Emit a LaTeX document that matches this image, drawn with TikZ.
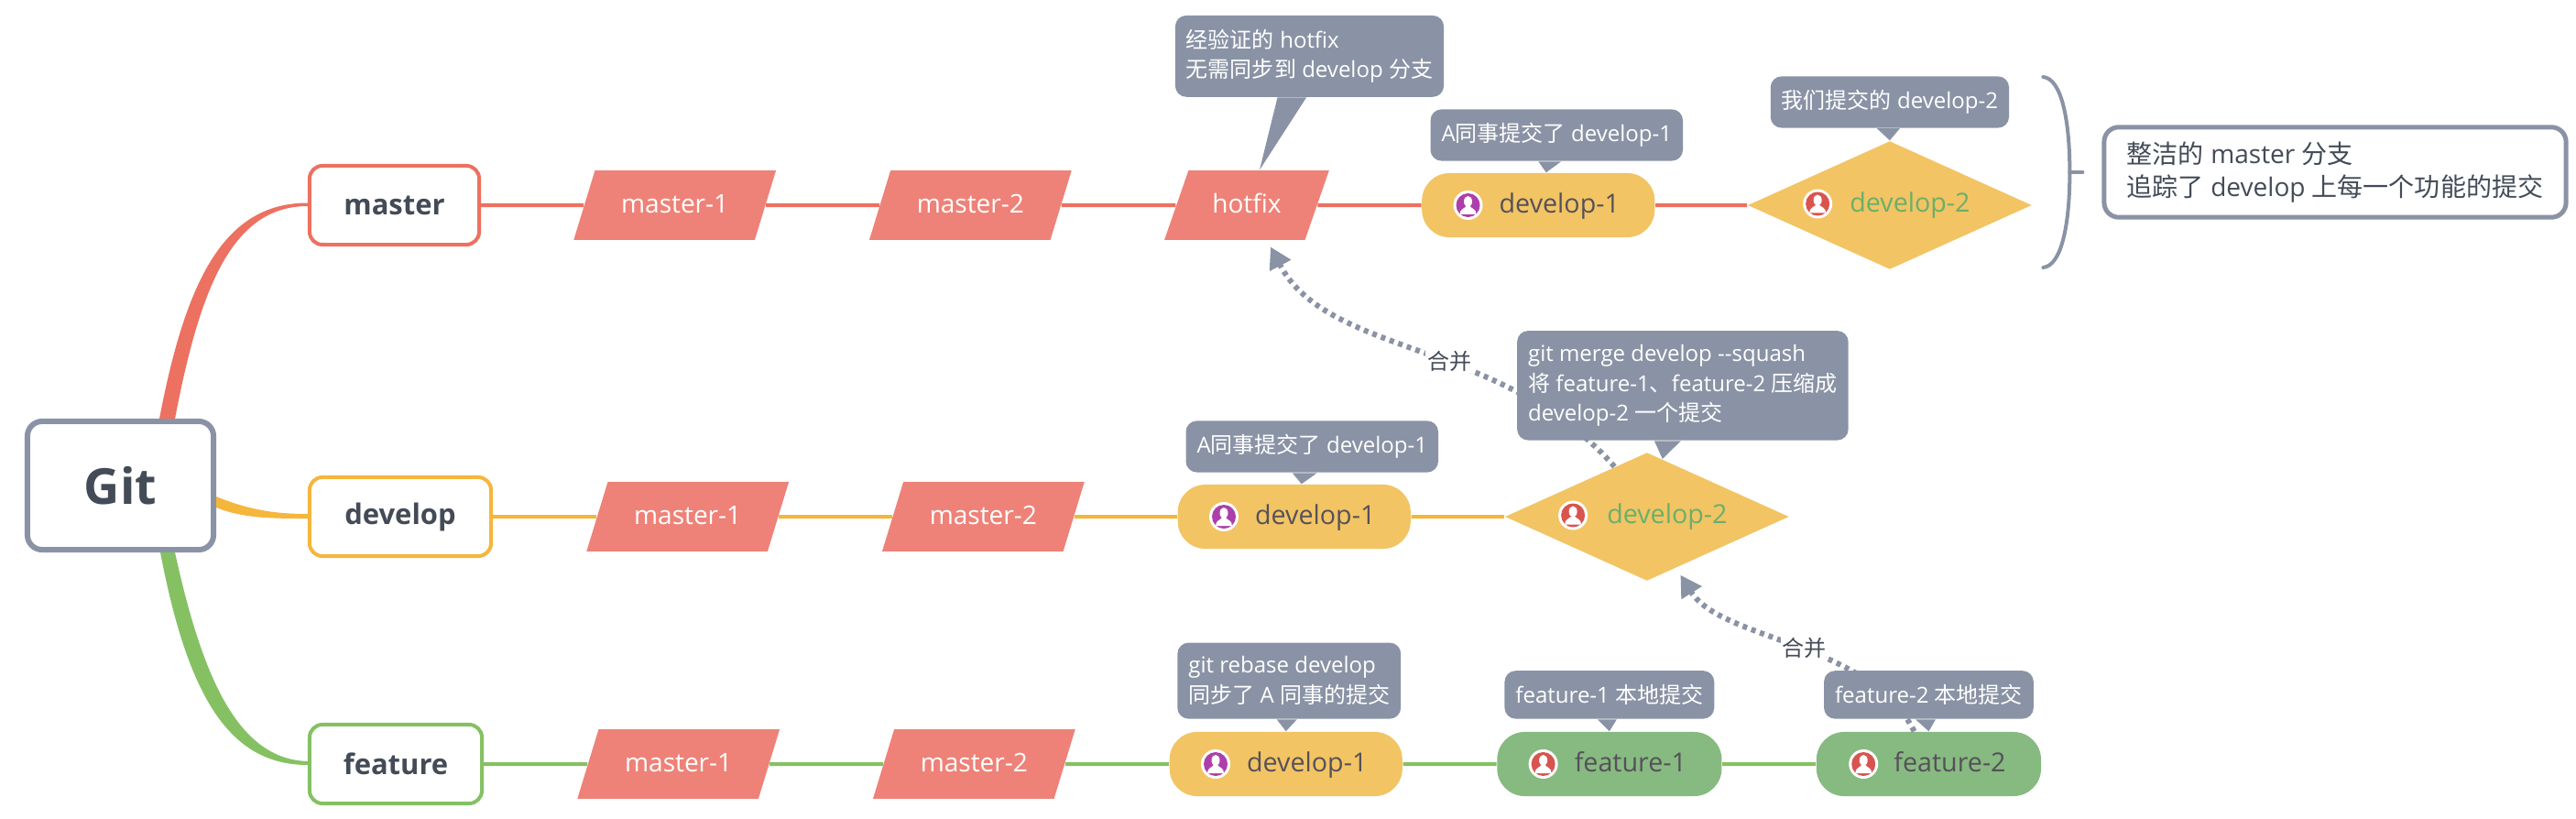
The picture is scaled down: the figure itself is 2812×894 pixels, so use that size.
\documentclass[tikz,border=0pt]{standalone}
\usepackage{fontspec}
\setmainfont{Open Sans}
\newfontfamily\cjk{Noto Sans CJK SC}
\newcommand{\zh}[1]{{\cjk #1}}
\usetikzlibrary{arrows.meta,positioning,shapes.geometric}

\definecolor{slategray}{HTML}{8A93A5}
\definecolor{inkgray}{HTML}{434B57}
\definecolor{pilltext}{HTML}{55505A}
\definecolor{masterline}{HTML}{EC7160}
\definecolor{developline}{HTML}{F5B63C}
\definecolor{featureline}{HTML}{85C163}
\definecolor{parafill}{HTML}{EE8278}
\definecolor{yellowfill}{HTML}{F2C464}
\definecolor{greenfill}{HTML}{87BA80}
\definecolor{devgreen}{HTML}{6AAF6A}
\definecolor{userpurple}{HTML}{AC3FAA}
\definecolor{userred}{HTML}{D9534F}

\tikzset{
  usericon/.pic={
    \fill[white] (0,0) circle (16);
    \fill[#1] (0,0) circle (13);
    \fill[white] (0,-4) ellipse (4.5 and 6);
    \fill[white] (-9,10) .. controls (-9,4) and (-4,4) .. (-2,1) -- (2,1) .. controls (4,4) and (9,4) .. (9,10) -- cycle;
  }
}

\begin{document}
\begin{tikzpicture}[
  x=.01cm,y=-.01cm,
  branch/.style={draw,fill=white,line width=.04cm,rounded corners=.14cm,minimum height=.86cm,text=inkgray,font=\bfseries\fontsize{8.8pt}{12pt}\selectfont},
  para/.style={trapezium,trapezium left angle=62.7,trapezium right angle=117.3,trapezium stretches=true,fill=parafill,minimum width=2.21cm,minimum height=.755cm,inner sep=0pt,text=white,text height=.23cm,text depth=.07cm,font=\fontsize{7.97pt}{10pt}\selectfont},
  commit/.style={rounded corners=.3cm,minimum width=2.54cm,minimum height=.7cm,inner sep=0pt,text=pilltext,text height=.23cm,text depth=.07cm,execute at begin node=\hspace*{.46cm},font=\fontsize{8.15pt}{10pt}\selectfont},
  merged/.style={diamond,fill=yellowfill,aspect=2.19,minimum width=3.1cm,minimum height=1.4cm,inner sep=0pt,text=devgreen,execute at begin node=\hspace*{.44cm},font=\fontsize{8.15pt}{10pt}\selectfont},
  note/.style={fill=slategray,rounded corners=.12cm,inner xsep=.12cm,inner ysep=.15cm,align=left,text=white,font=\fontsize{6.83pt}{9.3pt}\selectfont},
  tail/.style={fill=slategray},
  flow/.style={line width=.04cm},
  mergeline/.style={draw=slategray,line width=.06cm,dash pattern=on .05cm off .05cm,-{Triangle[length=.23cm,width=.25cm]}},
  mergelabel/.style={fill=white,inner sep=.02cm,text=inkgray,font=\fontsize{6.83pt}{9pt}\selectfont}
]
  \useasboundingbox (0,0) rectangle (2812,894);

  \node[draw=slategray,fill=white,line width=.06cm,rounded corners=.16cm,minimum width=2.03cm,minimum height=1.4cm,text=inkgray,font=\bfseries\fontsize{15.4pt}{19pt}\selectfont] (git) at (131.5,530) {Git};
  \node[branch,draw=masterline,minimum width=1.85cm] (master) at (430.5,224) {master};
  \node[branch,draw=developline,minimum width=1.98cm] (develop) at (437,564) {develop};
  \node[branch,draw=featureline,minimum width=1.88cm] (feature) at (432,834) {feature};

  % master row
  \node[para,right=1.12cm of master] (masterone) {master-1};
  \node[para,right=1.235cm of masterone] (mastertwo) {master-2};
  \node[para,minimum width=1.8cm,right=1.245cm of mastertwo] (hotfix) {hotfix};
  \node[commit,fill=yellowfill,right=1.13cm of hotfix] (devone) {develop-1};
  \node[merged,right=1cm of devone] (devtwo) {develop-2};

  % develop row
  \node[para,right=1.13cm of develop] (dmasterone) {master-1};
  \node[para,right=1.235cm of dmasterone] (dmastertwo) {master-2};
  \node[commit,fill=yellowfill,right=1.12cm of dmastertwo] (ddevone) {develop-1};
  \node[merged,right=1.015cm of ddevone] (ddevtwo) {develop-2};

  % feature row
  \node[para,right=1.13cm of feature] (fmasterone) {master-1};
  \node[para,right=1.235cm of fmasterone] (fmastertwo) {master-2};
  \node[commit,fill=yellowfill,right=1.13cm of fmastertwo] (fdevone) {develop-1};
  \node[commit,fill=greenfill,minimum width=2.45cm,right=1.02cm of fdevone] (featone) {feature-1};
  \node[commit,fill=greenfill,minimum width=2.45cm,right=1.02cm of featone] (feattwo) {feature-2};

  % tapered branches out of the root
  \fill[masterline] ([xshift=.425cm]git.north) .. controls +(29,-152) and (245,221.5) .. ([yshift=.025cm]master.west) -- ([yshift=-.01cm]master.west) .. controls (255,225) and (219,310) .. ([xshift=.595cm]git.north) -- cycle;
  \fill[developline] ([yshift=-.12cm]git.east) .. controls (275,558) and (305,561) .. ([yshift=.03cm]develop.west) -- ([yshift=-.02cm]develop.west) .. controls (300,566) and (265,566) .. ([yshift=-.24cm]git.east) -- cycle;
  \fill[featureline] ([xshift=.435cm]git.south) .. controls +(30,157) and (250,835) .. ([yshift=-.01cm]feature.west) -- ([yshift=.03cm]feature.west) .. controls (262,829) and (222,745) .. ([xshift=.595cm]git.south) -- cycle;

  \draw[flow,masterline] (master) -- (masterone) (masterone) -- (mastertwo) (mastertwo) -- (hotfix) (hotfix) -- (devone) (devone) -- (devtwo);
  \draw[flow,developline] (develop) -- (dmasterone) (dmasterone) -- (dmastertwo) (dmastertwo) -- (ddevone) (ddevone) -- (ddevtwo);
  \draw[flow,featureline] (feature) -- (fmasterone) (fmasterone) -- (fmastertwo) (fmastertwo) -- (fdevone) (fdevone) -- (featone) (featone) -- (feattwo);

  \pic at ([xshift=.51cm]devone.west) {usericon=userpurple};
  \pic at ([xshift=.77cm,yshift=.015cm]devtwo.west) {usericon=userred};
  \pic at ([xshift=.51cm]ddevone.west) {usericon=userpurple};
  \pic at ([xshift=.75cm,yshift=.015cm]ddevtwo.west) {usericon=userred};
  \pic at ([xshift=.51cm]fdevone.west) {usericon=userpurple};
  \pic at ([xshift=.51cm]featone.west) {usericon=userred};
  \pic at ([xshift=.52cm]feattwo.west) {usericon=userred};

  % merges run under the notes
  \draw[mergeline] (ddevtwo.123) .. controls (1640,370) and (1450,390) .. ([shift={(26,7)}]hotfix.south) node[mergelabel,pos=.43] (mergeup) {\zh{合并}};
  \draw[mergeline] (feattwo.114) .. controls (2040,700) and (1880,700) .. ([shift={(0,9.5)}]ddevtwo.-56) node[mergelabel,pos=.47] (mergedown) {\zh{合并}};

  \node[note,above=.79cm of hotfix,xshift=.685cm] (hotfixnote) {\zh{经验证的} hotfix\\\zh{无需同步到} develop \zh{分支}};
  \fill[tail] ([xshift=-.35cm]hotfixnote.south) -- ([xshift=-.035cm]hotfixnote.south) -- ([xshift=.14cm]hotfix.north) -- cycle;
  \node[note,above=.12cm of devone,xshift=.2cm] (devonenote) {A\zh{同事提交了} develop-1};
  \fill[tail] ([xshift=-.2cm]devonenote.south) -- ([xshift=.05cm]devonenote.south) -- ([xshift=.085cm]devone.north) -- cycle;
  \node[note,above=.13cm of devtwo] (devtwonote) {\zh{我们提交的} develop-2};
  \fill[tail] ([xshift=-.14cm]devtwonote.south) -- ([xshift=.11cm]devtwonote.south) -- (devtwo.north) -- cycle;

  \node[note,above=.12cm of ddevtwo,xshift=.39cm] (mergenote) {git merge develop -{}-squash\\\zh{将} feature-1\zh{、}feature-2 \zh{压缩成}\\develop-2 \zh{一个提交}};
  \fill[tail] ([xshift=-.31cm]mergenote.south) -- ([xshift=-.02cm]mergenote.south) -- (ddevtwo.75) -- cycle;
  \node[note,above=.12cm of ddevone,xshift=.195cm] (ddevonenote) {A\zh{同事提交了} develop-1};
  \fill[tail] ([xshift=-.215cm]ddevonenote.south) -- ([xshift=.055cm]ddevonenote.south) -- ([xshift=.08cm]ddevone.north) -- cycle;

  \node[note,above=.13cm of fdevone,xshift=.035cm] (rebasenote) {git rebase develop\\\zh{同步了} A \zh{同事的提交}};
  \fill[tail] ([xshift=-.135cm]rebasenote.south) -- ([xshift=.085cm]rebasenote.south) -- (fdevone.north) -- cycle;
  \node[note,above=.13cm of featone] (featonenote) {feature-1 \zh{本地提交}};
  \fill[tail] ([xshift=-.13cm]featonenote.south) -- ([xshift=.08cm]featonenote.south) -- (featone.north) -- cycle;
  \node[note,above=.13cm of feattwo] (feattwonote) {feature-2 \zh{本地提交}};
  \fill[tail] ([xshift=-.145cm]feattwonote.south) -- ([xshift=.075cm]feattwonote.south) -- (feattwo.north) -- cycle;

  % summary on the right
  \node[draw=slategray,fill=white,line width=.05cm,rounded corners=.16cm,inner xsep=.25cm,inner ysep=.16cm,align=left,text=inkgray,font=\fontsize{7.97pt}{10.24pt}\selectfont] (summary) at (2549,188) {\zh{整洁的} master \zh{分支}\\\zh{追踪了} develop \zh{上每一个功能的提交}};
  \coordinate (bracemid) at ([xshift=-.35cm]summary.west);
  \coordinate (stubend) at ([xshift=-.21cm]summary.west);
  \draw[slategray,line width=.04cm,line cap=round] ([shift={(-29,-104)}]bracemid) .. controls +(20,2) and +(0,-57) .. (bracemid) .. controls +(0,57) and +(20,-2) .. ([shift={(-29,104)}]bracemid);
  \draw[slategray,line width=.04cm,line cap=round] (bracemid) -- (stubend);
\end{tikzpicture}
\end{document}
